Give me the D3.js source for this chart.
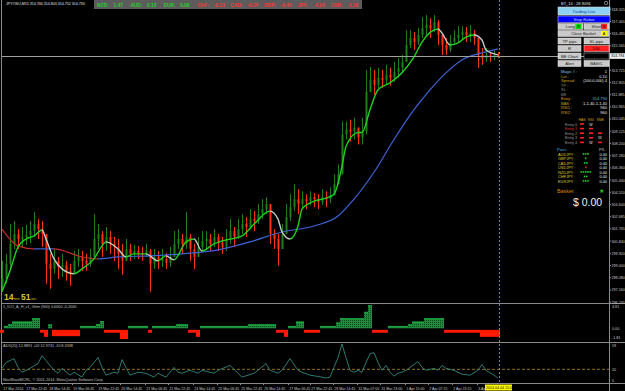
<!DOCTYPE html>
<html><head><meta charset="utf-8">
<script src="https://cdn.jsdelivr.net/npm/d3@7"></script>
<style>html,body{margin:0;padding:0;background:#000;overflow:hidden}svg{display:block}text{font-family:"Liberation Sans",Arial,sans-serif}</style>
</head><body><svg id="c" width="625" height="391"></svg>
<script>
// ---------------- DATA ----------------
const firstOpen = 297.60;
const candleClose = [
298.00,299.13,300.63,301.38,301.00,301.15,301.30,301.60,302.13,301.75,
301.38,299.13,298.75,299.35,298.90,299.05,298.60,298.38,299.35,299.65,
299.35,299.13,299.65,301.00,301.38,300.63,301.15,300.63,300.40,299.88,
299.35,300.25,299.88,300.10,299.95,299.80,300.10,299.13,299.65,299.35,
299.50,299.20,299.65,300.63,301.00,300.63,301.15,300.25,299.65,300.40,
300.85,301.00,300.63,301.15,300.70,300.40,301.00,301.60,301.15,301.75,
302.13,301.90,302.50,302.35,302.88,303.25,303.63,301.38,301.00,300.25,
301.38,302.65,303.40,304.00,303.63,304.00,303.85,304.15,304.00,303.78,
304.15,304.00,304.30,305.13,305.88,308.88,309.25,309.10,309.40,308.65,
309.10,312.10,313.00,312.63,313.15,313.00,313.38,313.15,313.60,313.90,
314.35,315.63,316.15,315.85,316.38,316.90,317.13,316.90,317.35,316.38,
315.63,315.25,315.85,316.15,316.38,316.60,316.38,316.53,316.15,314.88,
314.65,314.88,314.73,314.88,314.79];
const candleHigh = [
299.35,299.88,302.13,302.35,301.75,301.90,302.05,302.35,303.03,302.50,
302.35,300.63,299.88,300.25,299.65,299.88,299.35,299.13,300.10,300.25,
300.10,299.88,300.25,302.88,302.13,301.60,301.90,301.60,301.15,301.00,
300.63,301.00,300.63,300.55,300.48,300.40,300.63,300.25,300.25,300.10,
300.25,299.95,300.40,301.60,301.75,301.38,303.03,301.38,300.63,301.15,
301.60,301.60,301.38,301.75,301.38,301.15,301.75,302.50,301.90,302.50,
302.88,302.65,303.25,303.10,303.63,304.00,304.15,303.25,301.75,301.38,
302.13,303.63,304.38,305.13,304.75,304.60,304.38,304.60,304.45,304.38,
304.75,304.60,304.90,305.88,306.63,309.85,309.85,310.00,310.15,309.40,
310.15,313.75,313.98,313.75,313.90,313.75,314.13,313.90,314.35,314.65,
314.88,316.75,316.75,316.60,316.90,317.73,317.88,317.65,317.88,317.50,
316.38,316.15,316.38,316.75,317.05,317.05,316.98,317.13,316.75,315.63,
315.40,315.40,315.10,315.25,315.10];
const candleLow = [
297.10,297.63,298.75,300.25,300.25,300.40,300.55,300.70,301.15,301.00,
300.40,297.63,297.25,298.38,298.00,298.15,297.85,297.48,298.60,298.90,
298.60,298.60,298.90,299.65,300.25,299.65,300.10,299.88,299.35,298.75,
298.30,299.35,299.35,299.50,299.50,299.35,299.65,297.03,298.75,298.75,
298.90,298.75,298.90,299.88,300.25,299.88,300.25,299.35,298.75,299.65,
300.10,300.25,300.10,300.40,300.10,299.88,300.10,300.63,300.40,301.00,
301.38,301.15,301.75,301.60,302.13,302.50,302.88,300.63,300.25,298.98,
300.40,301.75,302.35,303.10,302.88,303.25,303.25,303.55,303.40,303.25,
303.55,303.40,303.70,304.38,305.13,305.88,308.50,308.35,308.50,308.13,
308.13,308.88,312.10,311.88,312.40,312.40,312.63,312.55,312.85,313.15,
313.60,314.35,315.40,315.25,315.63,316.15,316.38,316.15,316.60,315.63,
314.88,314.88,315.10,315.63,315.85,316.00,315.85,315.85,315.63,313.90,
314.13,314.35,314.35,314.50,314.65];

const fastIdx = [0,2,4,6,8,10,11,13,15,18,20,23,25,26,29,31,33,36,39,41,43,46,48,50,53,55,60,63,67,69,70,72,74,75,78,81,83,85,86,89,90,92,94,97,100,103,105,109,110,112,114,116,118,120,121,124];
const fastVal = [297.03,298.60,300.40,301.00,301.23,301.68,301.00,299.50,298.75,298.38,298.75,299.50,300.48,300.78,300.25,299.65,299.88,299.88,299.35,299.73,299.43,300.78,301.00,300.10,300.63,300.85,301.23,302.13,303.10,302.50,301.53,301.00,301.98,303.25,303.85,304.08,304.38,306.48,307.98,309.03,309.03,310.75,312.25,312.78,313.53,314.73,315.85,316.83,316.53,315.63,315.78,316.23,316.38,316.00,315.25,314.88];

const slowIdx = [0,4,8,13,20,24,29,37,45,54,62,70,78,84,88,93,98,103,107,111,115,120,124];
const slowVal = [301.75,300.48,300.25,300.25,299.65,299.50,299.65,299.73,299.88,300.18,300.78,301.53,301.98,302.73,304.00,306.03,308.50,310.75,312.25,313.53,314.50,315.03,315.33];

const histVal = [
-0.9,0.5,0.85,1.4,1.4,1.4,1.4,1.4,2.1,2.1,
-0.9,-1.75,0.8,-1.6,-1.6,-1.6,-1.6,-1.6,-1.6,-1.6,
0.5,0.5,0.5,0.5,0.9,1.5,-0.9,-0.9,-0.9,-0.9,
-2.2,-2.2,0.5,0.5,0.5,0.5,0.5,-0.9,0.5,0.5,
0.5,0.5,0.5,0.5,0.85,0.85,0.85,-0.9,-0.9,-1.75,
0.5,0.5,0.5,0.5,0.5,0.5,0.5,0.5,0.5,0.5,
0.5,0.5,0.85,0.85,0.85,0.85,0.85,0.85,0.85,-0.9,
-0.9,-1.75,0.5,0.5,1.4,1.4,-0.9,-0.9,-0.9,-0.9,
0.5,0.5,0.5,0.5,1.2,2.1,2.1,2.1,2.1,2.1,
2.1,3.4,4.81,-0.9,-0.9,-0.9,-0.9,0.5,0.5,0.5,
0.5,0.5,0.85,1.4,1.4,1.4,2.1,2.1,2.1,2.1,
2.1,-0.9,-0.9,-0.9,-0.9,-0.9,-0.9,-0.9,-0.9,-0.9,
-1.75,-1.75,-1.75,-1.75,-1.75];

const adxIdx = [0,1,3,4,5,7,9,10,11,13,14,15,17,18,20,21,22,24,25,26,28,29,30,31,32,34,36,38,39,41,43,44,45,47,49,50,53,54,57,59,60,63,64,66,67,69,70,72,74,75,77,80,81,82,83,84,85,86,87,88,89,90,91,92,93,94,95,96,97,98,99,100,101,102,104,105,106,108,109,110,111,113,115,117,119,120,121,123,124];
const adxVal = [21.5,30.8,36.9,23.1,15.4,21.5,29.2,41.5,33.8,18.5,13.8,21.5,10.8,15.4,7.7,18.5,23.1,38.5,23.1,10.8,15.4,13.8,35.4,23.1,10.8,15.4,13.8,7.7,13.8,7.7,23.1,15.4,13.8,18.5,13.8,18.5,13.8,18.5,26.2,13.8,7.7,13.8,18.5,29.2,18.5,13.8,18.5,36.9,18.5,15.4,10.8,7.7,6.2,7.7,23.1,38.5,60.0,38.5,18.5,15.4,18.5,15.4,30.8,44.6,46.2,30.8,18.5,26.2,15.4,9.2,13.8,15.4,18.5,23.1,32.3,23.1,18.5,21.5,18.5,26.2,21.5,18.5,12.3,10.8,18.5,27.7,18.5,10.8,6.2];

const priceTicks = ["296.235","297.160","298.080","299.000","299.920","300.840","301.765","302.685","303.600","304.520","305.440","306.360","307.280","308.200","309.125","310.045","310.965","311.885","312.805","313.725","315.565","316.485","317.405","318.325"];
const currentPrice = 314.794;
const timeLabels = ["17 Mar 2014","17 Mar 22:45","18 Mar 14:45","19 Mar 06:45","19 Mar 22:45","20 Mar 14:45","21 Mar 06:45","21 Mar 22:45","24 Mar 14:45","25 Mar 06:45","25 Mar 22:45","26 Mar 14:45","27 Mar 06:45","27 Mar 22:45","28 Mar 14:45","31 Mar 07:00","31 Mar 23:00","1 Apr 15:00","2 Apr 07:15","2 Apr 23:15","3 Apr"];
const timeIdx = [0,5.75,11.5,17.5,23.75,29.5,35.75,41.5,47.75,53.75,59.5,65.25,71.5,77,82.75,88.75,94.5,100.75,106.5,112.5,118.75];
const currencyNames = ["NZD","AUD","EUR","CHF","CAD","GBP","JPY","USD"];
const currencyVals = [1.47,0.13,0.08,-0.13,-0.24,-0.45,-0.92,-1.16];
const pairNames = ["AUDJPY","GBPJPY","CADJPY","USDJPY","NZDJPY","CHFJPY","EURJPY"];
const pairStrength = [3,1,2,-1,5,2,3];
const pairPL = [0,0,0,0,0,0,0];
const histLabels = ["4.81","0.00","-1.81"];
const adxLabels = ["59","20","0"];

// ---------------- DRAW ----------------
const svg = d3.select("#c");
svg.append("rect").attr("width",625).attr("height",391).attr("fill","#000");
const defs = svg.append("defs");
const pat = defs.append("pattern").attr("id","dots").attr("width",2).attr("height",2).attr("patternUnits","userSpaceOnUse");
pat.append("rect").attr("width",2).attr("height",2).attr("fill","#1f8c40");
pat.append("rect").attr("width",1).attr("height",1).attr("fill","#0a4a1c");

const x = d3.scaleLinear().domain([0,124]).range([2,498]);
const yP = d3.scaleLinear().domain([296.25,319.02]).range([302,0]);
const y1 = d3.scaleLinear().domain([-2.6,4.81]).range([341,305]);
const yA = d3.scaleLinear().domain([0,60]).range([382,344]);

function t(g,xx,yy,s,col,size,anchor,weight){
  return g.append("text").attr("x",xx).attr("y",yy).text(s).attr("fill",col).attr("font-size",size||4.5)
    .attr("text-anchor",anchor||"start").attr("font-weight",weight||"normal");
}

// frame lines
const fr = svg.append("g").attr("stroke","#8a8a8a").attr("stroke-width",1);
fr.append("line").attr("x1",1.5).attr("x2",1.5).attr("y1",0).attr("y2",383);
fr.append("line").attr("x1",609.5).attr("x2",609.5).attr("y1",0).attr("y2",391);
[303.5,342.5,383.5].forEach(v=>fr.append("line").attr("x1",1).attr("x2",625).attr("y1",v).attr("y2",v));

// candles
const cg = svg.append("g");
candleClose.forEach((c,i)=>{
  const o = i ? candleClose[i-1] : firstOpen;
  const hi = Math.max(candleHigh[i],o,c), lo = Math.min(candleLow[i],o,c);
  const col = c>=o ? "#1f7f1a" : "#ff3312";
  cg.append("line").attr("x1",x(i)+0.5).attr("x2",x(i)+0.5).attr("y1",yP(hi)).attr("y2",yP(lo)).attr("stroke",col).attr("stroke-width",1);
  const top = yP(Math.max(o,c)), bot = yP(Math.min(o,c));
  cg.append("rect").attr("x",x(i)-0.5).attr("width",2).attr("y",top).attr("height",Math.max(1,bot-top)).attr("fill",col);
});

// slope-coloured lines
function slopeGradient(id, idx, val, upCol, downCol){
  const x0 = x(idx[0]), x1 = x(idx[idx.length-1]);
  const g = defs.append("linearGradient").attr("id",id).attr("gradientUnits","userSpaceOnUse")
    .attr("x1",x0).attr("x2",x1).attr("y1",0).attr("y2",0);
  for(let k=0;k<idx.length-1;k++){
    const col = val[k+1]>=val[k] ? upCol : downCol;
    g.append("stop").attr("offset",(x(idx[k])-x0)/(x1-x0)).attr("stop-color",col);
    g.append("stop").attr("offset",(x(idx[k+1])-x0)/(x1-x0)).attr("stop-color",col);
  }
}
const line = d3.line().curve(d3.curveMonotoneX);
slopeGradient("gSlow",slowIdx,slowVal,"#3d62d6","#c62a2a");
svg.append("path").attr("d",line(slowIdx.map((d,k)=>[x(d),yP(slowVal[k])]))).attr("fill","none").attr("stroke","url(#gSlow)").attr("stroke-width",1.2);
slopeGradient("gFast",fastIdx,fastVal,"#1ed21e","#c8c8c8");
svg.append("path").attr("d",line(fastIdx.map((d,k)=>[x(d),yP(fastVal[k])]))).attr("fill","none").attr("stroke","url(#gFast)").attr("stroke-width",1.4);

// bid line
svg.append("line").attr("x1",2).attr("x2",609).attr("y1",Math.round(yP(currentPrice))+0.5).attr("y2",Math.round(yP(currentPrice))+0.5).attr("stroke","#a0a0a0").attr("stroke-width",1);

// price axis
const ax = svg.append("g");
priceTicks.forEach(s=>{
  const v = +s, yy = yP(v);
  ax.append("line").attr("x1",609).attr("x2",611).attr("y1",yy).attr("y2",yy).attr("stroke","#8a8a8a");
  t(ax,611.5,yy+1.4,s,"#c8c8c8",3.7);
});
ax.append("rect").attr("x",610).attr("y",yP(currentPrice)-2.8).attr("width",15).attr("height",5.6).attr("fill","#f0f0f0");
t(ax,611,yP(currentPrice)+1.4,currentPrice.toFixed(3),"#000",3.7);

// histogram pane
const hg = svg.append("g");
histVal.forEach((v,i)=>{
  if(v>=0){
    hg.append("rect").attr("x",x(i)-2).attr("width",4).attr("y",y1(v)).attr("height",y1(0)-y1(v)).attr("fill","url(#dots)");
    hg.append("line").attr("x1",x(i)-2).attr("x2",x(i)+2).attr("y1",y1(v)+0.7).attr("y2",y1(v)+0.7).attr("stroke","#1aa03c").attr("stroke-width",1.4);
  } else {
    hg.append("rect").attr("x",x(i)-2).attr("width",4).attr("y",y1(0)+1.5).attr("height",y1(v)-y1(0)-1.5).attr("fill","#ff1a00");
  }
});
[4.81,0,-1.81].forEach((v,k)=>t(svg,612,Math.max(y1(v)+1.4,307.5),histLabels[k],"#c8c8c8",3.7));

// ADX pane
svg.append("line").attr("x1",2).attr("x2",609).attr("y1",yA(20)).attr("y2",yA(20)).attr("stroke","#a07a20").attr("stroke-dasharray","3,2").attr("stroke-width",0.9);
svg.append("path").attr("d",d3.line()(adxIdx.map((d,k)=>[x(d),yA(adxVal[k])]))).attr("fill","none").attr("stroke","#2b7a6e").attr("stroke-width",1);
[59,20,0].forEach((v,k)=>t(svg,612,Math.min(Math.max(yA(v)+1.4,347),382),adxLabels[k],"#c8c8c8",3.7));

// current-time dashed line
svg.append("line").attr("x1",499.5).attr("x2",499.5).attr("y1",0).attr("y2",383).attr("stroke","#8c8c3c").attr("stroke-dasharray","2,2");

// time axis
timeLabels.forEach((s,k)=>{
  const xx = x(timeIdx[k]);
  svg.append("line").attr("x1",xx+0.5).attr("x2",xx+0.5).attr("y1",383).attr("y2",385).attr("stroke","#8a8a8a");
  t(svg,xx+1.2,389.5,s,"#c8c8c8",3.6);
});
svg.append("rect").attr("x",485).attr("y",384.5).attr("width",27).attr("height",6).attr("fill","#ffff00");
t(svg,486,389.3,"2014.04.04 15:01","#000",3.6);

// pane labels
t(svg,6,5,"JPY#ISO,M15  314.766 314.803 314.752 314.794","#e8e8e8",3.6);
t(svg,3,308,"1_ICO_A_H_v1_Ghm (900) 0.0000 -0.2000","#c0c0c0",3.8);
t(svg,3,347,"ADX(20) 12.8891 +DI:12.9731 -DI:8.3338","#c0c0c0",3.8);
t(svg,3,381,"NeuWaveMCRL, © 2001-2014, MetaQuotes Software Corp.","#c0c0c0",3.8);

// timer
t(svg,4,299.5,"14","#d8c428",8.5,"start","bold");
t(svg,14,299.5,"min","#d8c428",3.5);
t(svg,21,299.5,"51","#d8c428",8.5,"start","bold");
t(svg,31,299.5,"sec","#d8c428",3.5);

// currency strip
svg.append("rect").attr("x",94).attr("y",0).attr("width",268).attr("height",9).attr("fill","#5c5c5c");
currencyNames.forEach((n,k)=>{
  const col = currencyVals[k]>=0 ? "#24d024" : "#ff3434";
  const bx = 97 + k*33.4;
  t(svg,bx,6.6,n+":",col,4.8,"start","bold");
  t(svg,bx+16.5,6.6,currencyVals[k].toFixed(2),col,4.8,"start","bold");
});

// ---------------- right panel ----------------
const P = svg.append("g");
t(P,561,5,"BT_14 : 28 8094","#e0e0e0",4);
P.append("circle").attr("cx",606).attr("cy",3).attr("r",1.7).attr("fill","none").attr("stroke","#ccc").attr("stroke-width",0.6);
function btn(bx,by,w,h,fill,label,tcol){
  P.append("rect").attr("x",bx).attr("y",by).attr("width",w).attr("height",h).attr("fill",fill).attr("stroke","#e8e8e8").attr("stroke-width",0.5);
  t(P,bx+w/2,by+h/2+1.5,label,tcol||"#222",4.2,"middle");
}
btn(558,7,52,8,"#8ed2f2","Trading Live","#1a3a9a");
btn(558,16,52,6.5,"#0000ff","Stop Robot","#c0d4ff");
btn(558,23.5,25,6,"#c9c9c9","Long   ");
P.append("rect").attr("x",575.5).attr("y",24).attr("width",6).attr("height",5).attr("fill","#00e000");
t(P,578.5,28,"R","#000",3.8,"middle");
btn(584,23.5,25,6,"#c9c9c9","Short   ");
P.append("rect").attr("x",601).attr("y",24).attr("width",6).attr("height",5).attr("fill","#ff2020");
t(P,604,28,"R","#000",3.8,"middle");
btn(558,30.5,51,6,"#c9c9c9","Close Basket   ");
P.append("rect").attr("x",601).attr("y",31).attr("width",6).attr("height",5).attr("fill","#ffff00");
t(P,604,35,"A","#000",3.8,"middle");
btn(558,38,23,6,"#c9c9c9","TP pips");
btn(584,38,25,6,"#c9c9c9","SL pips");
btn(558,45.5,23,6,"#c9c9c9","R");
btn(584,45.5,25,6,"#ff2020","DSL","#400");
btn(558,53,23,6,"#c9c9c9","BE Chart");
P.append("rect").attr("x",584).attr("y",53).attr("width",25).attr("height",6).attr("fill","#000").attr("stroke","#999").attr("stroke-width",0.6);
btn(558,60.5,23,6,"#c9c9c9","Alert");
btn(584,60.5,25,6,"#c9c9c9","BASIC");

const orange = "#d4a017";
const rows = [["Magic # :","1","#7fc4ea","#e8e8e8"],["Lot :","0.10",orange,"#e8e8e8"],["Spread :","(100.0.000)   4",orange,"#e8e8e8"],
  ["TP :","","#888",""],["SL :","","#888",""],["BE :","","#888",""],["Entry :","314.794",orange,"#5fb4e6"],
  ["BAS :","1-1.40-1-1.40",orange,"#e8e8e8"],["RSI1 :","960",orange,"#e8e8e8"],["RSI2 :","960",orange,"#e8e8e8"]];
rows.forEach((r,k)=>{
  const yy = 73 + k*4.5;
  t(P,561,yy,r[0],r[2],4);
  if(r[1]) t(P,607,yy,r[1],r[3],4,"end");
});
const cols = [582,591,600];
["HAS","RSI","SNB"].forEach((s,k)=>t(P,cols[k],121,s,orange,3.5,"middle"));
const marks = [["r","w",""],["r","r",""],["r","r","r"],["r","r","w"],["r","w","r"]];
marks.forEach((row,k)=>{
  const yy = 125.5 + k*4.6;
  t(P,565,yy,"Entry "+k,k===1?"#e03030":"#9a9a9a",3.8,"start");
  row.forEach((m,j)=>{
    if(m==="r") P.append("rect").attr("x",cols[j]-2).attr("y",yy-2.3).attr("width",4).attr("height",1.6).attr("fill","#ff2020");
    if(m==="w") t(P,cols[j],yy,"W","#e8e8e8",3.5,"middle");
  });
});
t(P,557,151,"Pairs","#4fa6e4",4.2);
t(P,602,151,"P/L","#d0d0d0",4,"middle");
pairNames.forEach((n,k)=>{
  const yy = 155.5 + k*4.5;
  t(P,558,yy,n+" :","#d8c830",3.9);
  const s = pairStrength[k], cnt = Math.abs(s);
  for(let j=0;j<cnt;j++){
    P.append("rect").attr("x",586 - cnt*1.1 + j*2.2).attr("y",yy-2.4).attr("width",1.6).attr("height",1.6).attr("fill",s>0?"#22cc22":"#ff2020");
  }
  t(P,607,yy,pairPL[k].toFixed(2),"#e8e8e8",3.9,"end");
});
t(P,557,192.5,"Basket :","#d48010",5.4);
t(P,601,192.5,"★","#22cc22",6,"middle");
t(P,573,206,"$ 0.00","#f0f0f0",10.5);
</script></body></html>
